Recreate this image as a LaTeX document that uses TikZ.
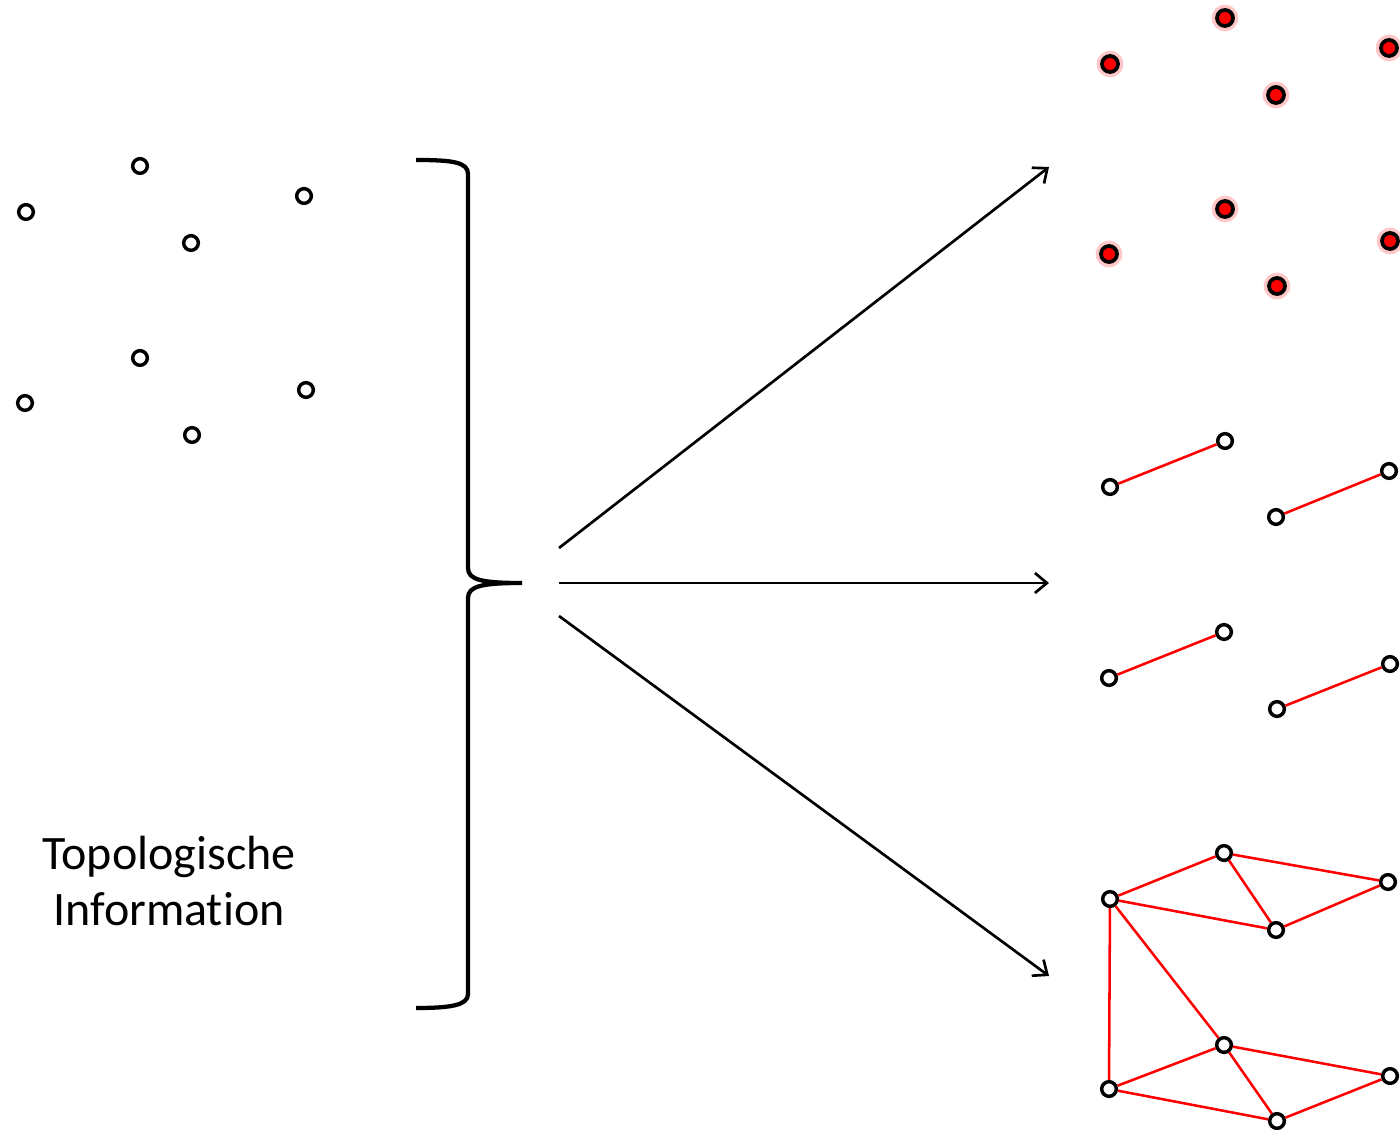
\documentclass[tikz,border=0pt]{standalone}
\usepackage{fontspec}
\setmainfont{Carlito}[Ligatures=NoCommon]
\usetikzlibrary{arrows.meta}
\begin{document}
\begin{tikzpicture}[x=0.75pt,y=-0.75pt,
  vtx/.style={circle,draw=black,fill=white,line width=2.6pt,minimum size=11pt,inner sep=0pt},
  rdot/.style={circle,draw=black,fill=red,line width=2.8pt,minimum size=12pt,inner sep=0pt},
  glow/.style={circle,fill=red!22,minimum size=20pt,inner sep=0pt,draw=none},
  redge/.style={red,line width=1.9pt},
  bigarrow/.style={line width=2pt,-{Straight Barb[length=9pt,width=15pt,line width=2pt]}},
  brace/.style={line width=3.2pt},
  lbl/.style={font=\fontsize{36pt}{42pt}\selectfont,align=center}]
\useasboundingbox (0,0) rectangle (1400,1130);
% left cluster
\foreach \n/\x/\y in {l1/26/212,l2/140/166,l3/191/243,l4/304/196,l5/25/403,l6/140/358,l7/192/435,l8/306/390}
  \node[vtx] (\n) at (\x,\y) {};
% label
\node[lbl] (txt) at (169,881) {Topologische\\Information};
% brace
\draw[brace] (416,160) .. controls (452,160) and (468,162) .. (468,174) -- (468,568)
  .. controls (468,580) and (482,583) .. (522,583)
  .. controls (482,583) and (468,586) .. (468,598) -- (468,994)
  .. controls (468,1005) and (452,1008) .. (416,1008);
% arrows
\coordinate (s1) at (559,548); \coordinate (e1) at (1049,167);
\coordinate (s2) at (559,583); \coordinate (e2) at (1049,583);
\coordinate (s3) at (559,616); \coordinate (e3) at (1049,976);
\draw[bigarrow] (s1) -- (e1);
\draw[bigarrow] (s2) -- (e2);
\draw[bigarrow] (s3) -- (e3);
% red dots
\foreach \n/\x/\y in {r1/1110/64,r2/1225/18,r3/1276/95,r4/1389/48,r5/1109/254,r6/1225/209,r7/1277/286,r8/1390/241}{
  \node[glow] (g\n) at (\x,\y) {};
  \node[rdot] (\n) at (\x,\y) {};
}
% pairs
\foreach \n/\x/\y in {p1/1110/487,p2/1225/441,p3/1276/517,p4/1389/471,p5/1109/678,p6/1224/632,p7/1277/709,p8/1390/664}
  \node[vtx] (\n) at (\x,\y) {};
\draw[redge] (p1) -- (p2);
\draw[redge] (p3) -- (p4);
\draw[redge] (p5) -- (p6);
\draw[redge] (p7) -- (p8);
% graph
\foreach \n/\x/\y in {A/1110/899,B/1224/853,C/1276/930,D/1388/882,E/1224/1045,F/1109/1089,G/1277/1121,H/1390/1076}
  \node[vtx] (\n) at (\x,\y) {};
\foreach \a/\b in {A/B,A/C,B/C,B/D,C/D,A/F,A/E,E/F,F/G,E/G,E/H,G/H}
  \draw[redge] (\a) -- (\b);
\end{tikzpicture}
\end{document}
